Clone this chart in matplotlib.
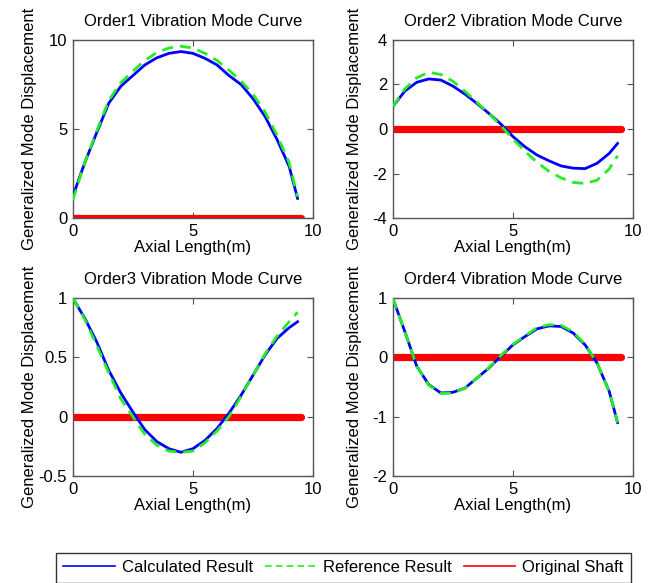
import matplotlib
matplotlib.use("Agg")
import matplotlib.pyplot as plt
from matplotlib.lines import Line2D

plt.rcParams['font.family'] = ['Liberation Sans', 'DejaVu Sans']
plt.rcParams['axes.unicode_minus'] = False

# ---- data ----
x = [0, 0.5, 1, 1.5, 2, 2.5, 3, 3.5, 4, 4.5, 5, 5.5, 6, 6.5, 7, 7.5, 8, 8.5, 9, 9.35]

o1_calc = [1.2, 3.1, 4.8, 6.45, 7.4, 8.0, 8.6, 9.0, 9.25, 9.35, 9.25, 8.97, 8.6, 8.0, 7.5, 6.7, 5.7, 4.4, 2.9, 1.1]
o1_ref = [1.0, 3.1, 4.9, 6.6, 7.6, 8.25, 8.85, 9.3, 9.55, 9.65, 9.55, 9.25, 8.85, 8.3, 7.7, 6.95, 5.95, 4.65, 3.1, 1.2]

o2_calc = [1.0, 1.7, 2.1, 2.25, 2.2, 1.93, 1.57, 1.15, 0.7, 0.22, -0.34, -0.8, -1.17, -1.43, -1.66, -1.76, -1.78, -1.54, -1.1, -0.65]
o2_ref = [1.0, 1.8, 2.3, 2.55, 2.45, 2.15, 1.7, 1.2, 0.7, 0.15, -0.45, -1.0, -1.5, -1.9, -2.2, -2.4, -2.45, -2.3, -1.8, -1.2]

o3_calc = [1.0, 0.83, 0.63, 0.39, 0.2, 0.04, -0.11, -0.21, -0.27, -0.3, -0.27, -0.2, -0.1, 0.03, 0.18, 0.35, 0.52, 0.66, 0.75, 0.8]
o3_ref = [1.0, 0.82, 0.6, 0.37, 0.15, 0.0, -0.15, -0.24, -0.29, -0.3, -0.29, -0.22, -0.12, 0.0, 0.17, 0.35, 0.53, 0.68, 0.8, 0.88]

o4_calc = [1.0, 0.44, -0.15, -0.46, -0.6, -0.59, -0.52, -0.35, -0.18, 0.02, 0.21, 0.35, 0.48, 0.53, 0.52, 0.41, 0.21, -0.1, -0.57, -1.1]
o4_ref = [1.0, 0.44, -0.15, -0.47, -0.61, -0.6, -0.52, -0.35, -0.17, 0.03, 0.22, 0.36, 0.5, 0.55, 0.54, 0.43, 0.22, -0.1, -0.57, -1.1]

shaft_x = [0, 9.5]
shaft_y = [0, 0]

titles = ["Order1 Vibration Mode Curve", "Order2 Vibration Mode Curve",
          "Order3 Vibration Mode Curve", "Order4 Vibration Mode Curve"]
ylims = [(0, 10), (-4, 4), (-0.5, 1), (-2, 1)]
yticks = [[0, 5, 10], [-4, -2, 0, 2, 4], [-0.5, 0, 0.5, 1], [-2, -1, 0, 1]]
ytick_labels = [["0", "5", "10"], ["-4", "-2", "0", "2", "4"],
                ["-0.5", "0", "0.5", "1"], ["-2", "-1", "0", "1"]]
xticks = [0, 5, 10]
legend_labels = ["Calculated Result", "Reference Result", "Original Shaft"]

calc = [o1_calc, o2_calc, o3_calc, o4_calc]
ref = [o1_ref, o2_ref, o3_ref, o4_ref]

# ---- figure ----
W, H = 652, 583
fig = plt.figure(figsize=(W / 100, H / 100), dpi=100)

lefts = [72.7, 392.7]
tops = [40, 298]
aw, ah = 240.5, 178
positions = [(lefts[0], tops[0]), (lefts[1], tops[0]), (lefts[0], tops[1]), (lefts[1], tops[1])]
label_x = [-0.148, -0.128, -0.148, -0.128]

fs = 12
for i, (lx, ty) in enumerate(positions):
    ax = fig.add_axes([lx / W, 1 - (ty + ah) / H, aw / W, ah / H])
    ax.plot(shaft_x, shaft_y, color='#ff0000', lw=5.2, solid_capstyle='round', zorder=2)
    ax.plot(x, calc[i], color='#0000ff', lw=2, zorder=3)
    ax.plot(x, ref[i], color='#22ee22', lw=2, ls=(0, (4, 2.5)), zorder=4)
    ax.set_xlim(0, 10)
    ax.set_ylim(*ylims[i])
    ax.set_xticks(xticks)
    ax.set_xticklabels([str(t) for t in xticks])
    ax.set_yticks(yticks[i])
    ax.set_yticklabels(ytick_labels[i])
    ax.tick_params(direction='in', length=4, width=0.8, top=True, right=True,
                   labelsize=fs, color='#555555', pad=4)
    for s in ax.spines.values():
        s.set_color('#555555')
        s.set_linewidth(1)
    ax.set_title(titles[i], fontsize=fs, pad=10)
    ax.set_xlabel("Axial Length(m)", fontsize=fs, labelpad=1)
    ax.set_ylabel("Generalized Mode Displacement", fontsize=fs)
    ax.yaxis.set_label_coords(label_x[i], 0.5)

handles = [Line2D([], [], color='#0000ff', lw=1.2),
           Line2D([], [], color='#22ee22', lw=1.2, ls=(0, (4, 2.5))),
           Line2D([], [], color='#ff0000', lw=1.2)]
leg = fig.legend(handles, legend_labels, loc='upper center', ncol=3,
                 bbox_to_anchor=(343.5 / W, 1 - 552.7 / H),
                 fontsize=fs, frameon=True, fancybox=False, edgecolor='black',
                 handlelength=3.1, handletextpad=0.42, columnspacing=0.7,
                 borderpad=0.45, borderaxespad=0)
leg.get_frame().set_linewidth(1)

fig.savefig("out.png", dpi=100)
